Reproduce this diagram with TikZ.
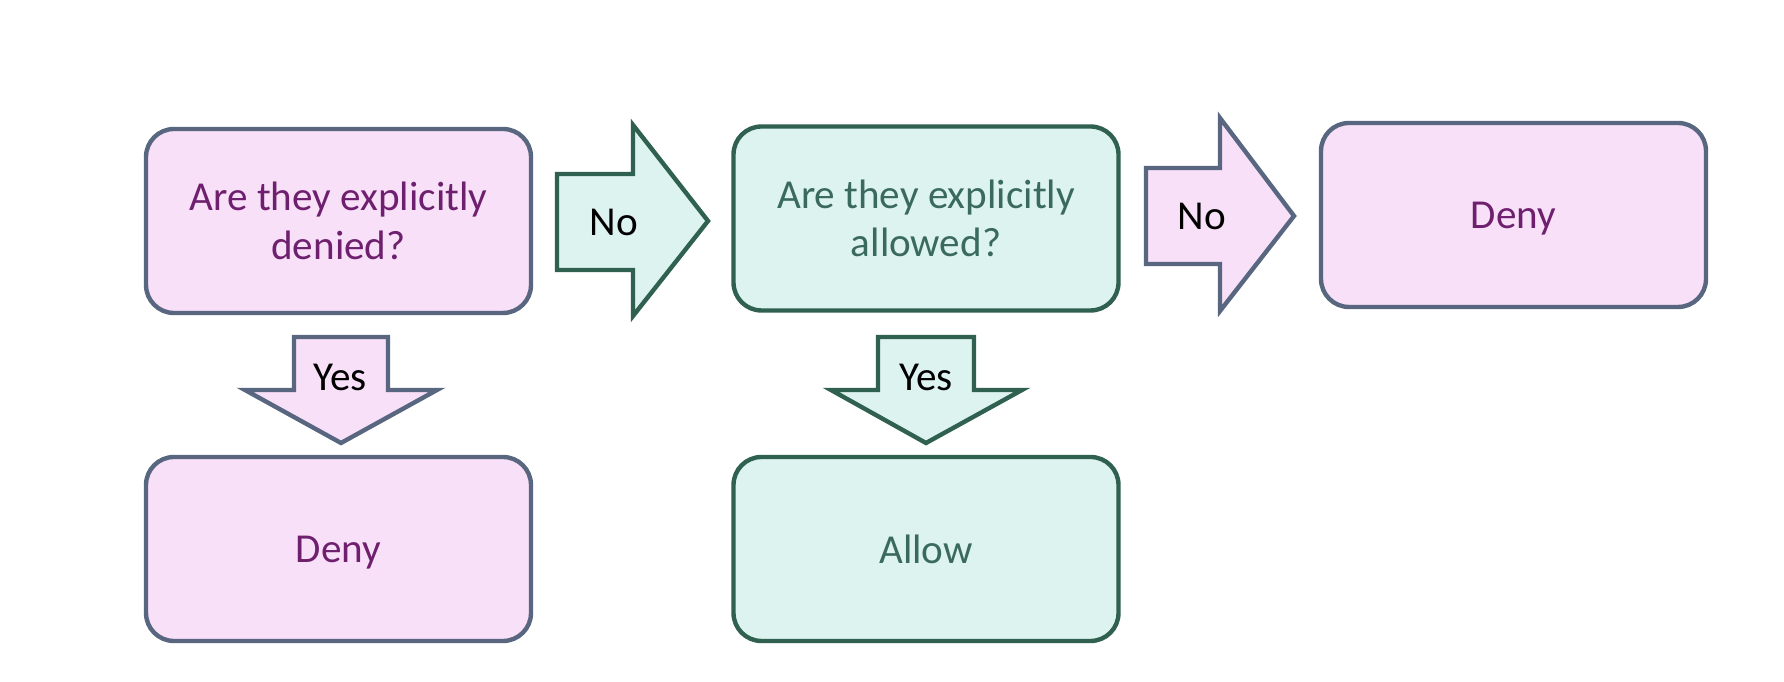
\documentclass[tikz,border=0pt]{standalone}
\usepackage{fontspec}
\setmainfont{Carlito}
\usepackage{tikz}
\usepackage{xcolor}
\usetikzlibrary{positioning}
\definecolor{pinkfill}{RGB}{248,224,248}
\definecolor{pinkline}{RGB}{88,102,128}
\definecolor{pinktext}{RGB}{110,31,110}
\definecolor{tealfill}{RGB}{221,243,240}
\definecolor{tealline}{RGB}{47,96,80}
\definecolor{tealtext}{RGB}{58,106,92}

\begin{document}
\begin{tikzpicture}[line width=1.25pt,
  pinkbox/.style={draw=pinkline, fill=pinkfill, text=pinktext, rounded corners=0.28cm,
    minimum width=3.85cm, minimum height=1.84cm, align=center, font=\fontsize{11.7}{13.8}\selectfont},
  tealbox/.style={draw=tealline, fill=tealfill, text=tealtext, rounded corners=0.28cm,
    minimum width=3.85cm, minimum height=1.84cm, align=center, font=\fontsize{11.7}{13.8}\selectfont},
  lbl/.style={font=\fontsize{11.7}{13.8}\selectfont, text=black}]
\useasboundingbox (0,0) rectangle (17.84,6.82);

% top row: the two questions and the final deny
\node[pinkbox] (qdeny) at (3.385,4.61) {Are they explicitly\\denied?};
\node[tealbox] (qallow) at (9.26,4.635) {Are they explicitly\\allowed?};
\node[pinkbox, text depth=0pt] (denyend) at (15.135,4.67) {Deny};

% bottom row
\node[pinkbox, text depth=0pt] (deny) at (3.385,1.33) {Deny};
\node[tealbox, text depth=0pt] (allow) at (9.26,1.33) {Allow};

% block arrow: no (teal)
\draw[draw=tealline, fill=tealfill, line join=miter]
  (5.57,4.12) -- (6.33,4.12) -- (6.33,3.66) -- (7.08,4.61) -- (6.33,5.57)
  -- (6.33,5.08) -- (5.57,5.08) -- cycle;
\node[lbl] (no1) at (6.14,4.60) {No};

% block arrow: no (pink)
\draw[draw=pinkline, fill=pinkfill, line join=miter]
  (11.46,4.18) -- (12.20,4.18) -- (12.20,3.71) -- (12.94,4.66) -- (12.20,5.64)
  -- (12.20,5.14) -- (11.46,5.14) -- cycle;
\node[lbl] (no2) at (12.02,4.66) {No};

% block arrow: yes (pink)
\draw[draw=pinkline, fill=pinkfill, line join=miter]
  (2.94,3.45) -- (3.88,3.45) -- (3.88,2.92) -- (4.37,2.92) -- (3.41,2.39)
  -- (2.45,2.92) -- (2.94,2.92) -- cycle;
\node[lbl] (yes1) at (3.40,3.05) {Yes};

% block arrow: yes (teal)
\draw[draw=tealline, fill=tealfill, line join=miter]
  (8.78,3.45) -- (9.74,3.45) -- (9.74,2.92) -- (10.22,2.92) -- (9.26,2.39)
  -- (8.31,2.92) -- (8.78,2.92) -- cycle;
\node[lbl] (yes2) at (9.26,3.05) {Yes};
\end{tikzpicture}
\end{document}
